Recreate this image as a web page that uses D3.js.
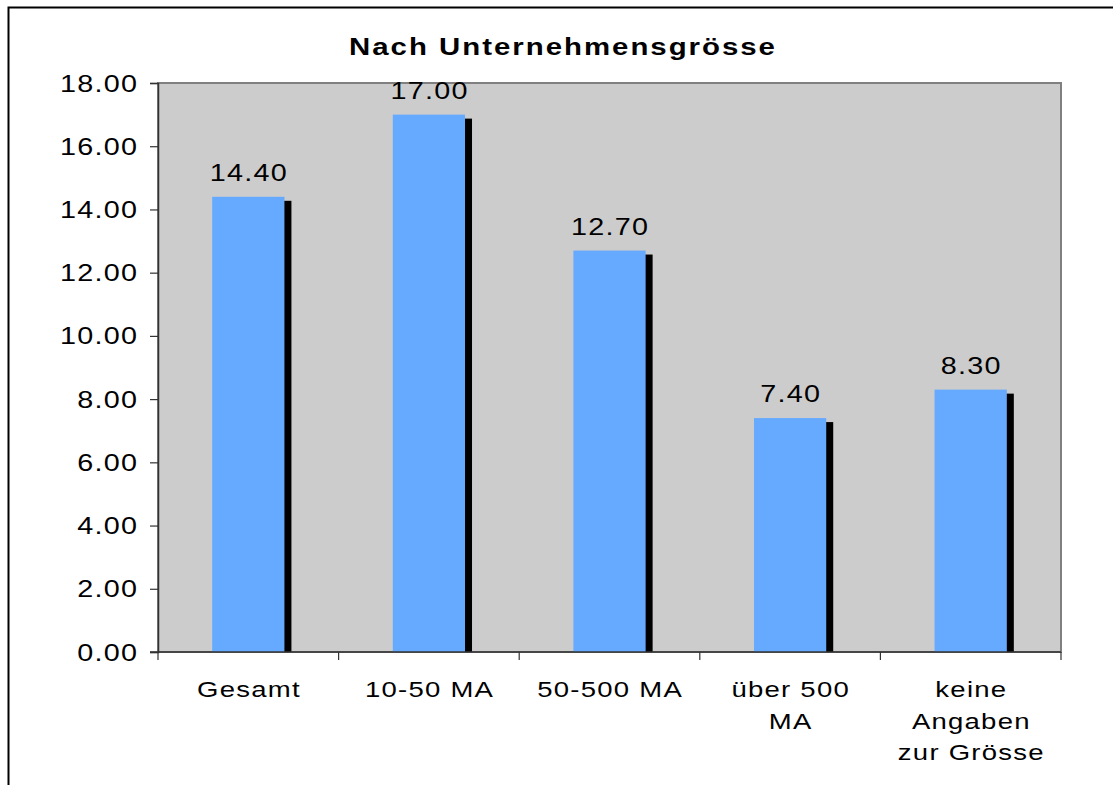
<!DOCTYPE html>
<html>
<head>
<meta charset="utf-8">
<script src="https://cdn.jsdelivr.net/npm/d3@7"></script>
<style>
  html, body { margin: 0; padding: 0; background: #fff; }
  svg { display: block; }
  text { font-family: "Liberation Sans", Arial, sans-serif; fill: #000; }
</style>
</head>
<body>
<svg id="chart" width="1113" height="785"></svg>
<script>
// ---- data ----
const title = "Nach Unternehmensgrösse";
const categories = ["Gesamt", "10-50 MA", "50-500 MA", "über 500\nMA", "keine\nAngaben\nzur Grösse"];
const values = [14.40, 17.00, 12.70, 7.40, 8.30];
const yTicks = [0, 2, 4, 6, 8, 10, 12, 14, 16, 18];

// ---- layout ----
const W = 1113, H = 785;
const plot = { left: 158, top: 83, right: 1061, bottom: 652 };
const sx = 1.25; // horizontal stretch of text

const svg = d3.select("#chart");

// outer frame
svg.append("rect")
  .attr("x", 8.5).attr("y", 7.5)
  .attr("width", W + 10).attr("height", H + 10)
  .attr("fill", "#fff").attr("stroke", "#000").attr("stroke-width", 2);

const x = d3.scaleBand()
  .domain(categories)
  .range([plot.left, plot.right])
  .paddingInner(0.6)
  .paddingOuter(0.3);

const y = d3.scaleLinear()
  .domain([0, 18])
  .range([plot.bottom, plot.top]);

function stretchedText(g, tx, ty, str, size, anchor, weight, ls) {
  const shift = anchor === "end" ? ls * sx : anchor === "middle" ? ls * sx / 2 : 0;
  return g.append("text")
    .attr("transform", `translate(${tx + shift},${ty}) scale(${sx},1)`)
    .attr("text-anchor", anchor)
    .style("font-size", size + "px")
    .style("font-weight", weight || "normal")
    .style("letter-spacing", ls + "px")
    .text(str);
}

// plot background
svg.append("rect")
  .attr("x", plot.left).attr("y", plot.top)
  .attr("width", plot.right - plot.left).attr("height", plot.bottom - plot.top)
  .attr("fill", "#cccccc").attr("stroke", "#808080").attr("stroke-width", 2);

// title
stretchedText(svg, 562, 55, title, 23.5, "middle", "bold", 1.6);

// bars with shadow
const bars = svg.append("g");
const shDx = 7, shDy = 4;
bars.selectAll("rect.shadow")
  .data(values)
  .join("rect")
  .attr("class", "shadow")
  .attr("x", (d, i) => x(categories[i]) + shDx)
  .attr("y", d => y(d) + shDy)
  .attr("width", x.bandwidth())
  .attr("height", d => Math.max(0, y(0) - y(d) - shDy))
  .attr("fill", "#000");
bars.selectAll("rect.bar")
  .data(values)
  .join("rect")
  .attr("class", "bar")
  .attr("x", (d, i) => x(categories[i]))
  .attr("y", d => y(d))
  .attr("width", x.bandwidth())
  .attr("height", d => y(0) - y(d))
  .attr("fill", "#66aaff");

// value labels
values.forEach((v, i) => {
  stretchedText(svg, x(categories[i]) + x.bandwidth() / 2, y(v) - 16, v.toFixed(2), 23, "middle", "normal", 1);
});

// y axis
const yAxisG = svg.append("g")
  .attr("transform", `translate(${plot.left},0)`)
  .call(d3.axisLeft(y).tickValues(yTicks).tickSize(8).tickFormat(""));
yAxisG.select(".domain").attr("stroke", "#333").attr("stroke-width", 1.5);
yAxisG.selectAll(".tick line").attr("stroke", "#333").attr("stroke-width", 1.2);
yTicks.forEach(t => {
  stretchedText(svg, 137, y(t) + 8.5, t.toFixed(2), 23, "end", "normal", 1);
});

// x axis
const xAxisG = svg.append("g");
xAxisG.append("line")
  .attr("x1", plot.left - 8).attr("x2", plot.right)
  .attr("y1", plot.bottom).attr("y2", plot.bottom)
  .attr("stroke", "#333").attr("stroke-width", 1.5);
const step = x.step();
const b0 = plot.left;
xAxisG.selectAll("line.tick")
  .data(d3.range(categories.length + 1))
  .join("line")
  .attr("class", "tick")
  .attr("x1", i => b0 + i * step).attr("x2", i => b0 + i * step)
  .attr("y1", plot.bottom).attr("y2", plot.bottom + 8)
  .attr("stroke", "#333").attr("stroke-width", 1.2);

categories.forEach((c, i) => {
  const cx = x(c) + x.bandwidth() / 2;
  c.split("\n").forEach((line, j) => {
    stretchedText(svg, cx, 697 + j * 31.5, line, 22, "middle", "normal", 1);
  });
});
</script>
</body>
</html>
